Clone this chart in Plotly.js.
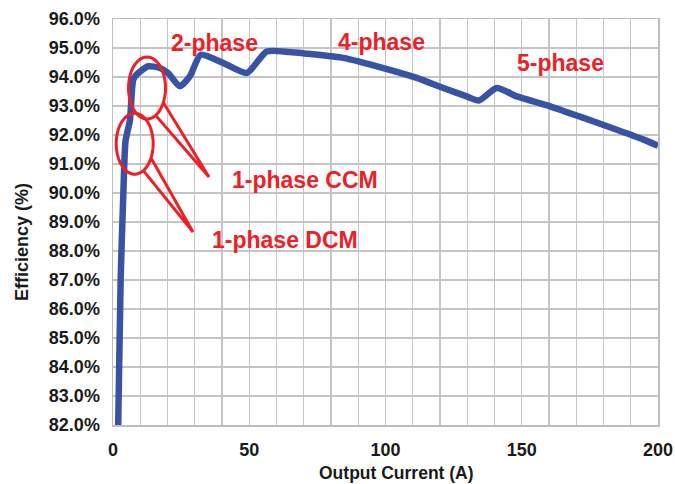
<!DOCTYPE html>
<html>
<head>
<meta charset="utf-8">
<script src="https://cdn.plot.ly/plotly-3.0.1.min.js"></script>
<style>html,body{margin:0;padding:0;background:#fff;}#chart{width:675px;height:484px;}</style>
</head>
<body>
<div id="chart"></div>
<script>
// Data
const outputCurrent = [1.9, 2.8, 3.8, 4.6, 6.2, 7.4, 8.6, 12.9, 17.2, 20.2, 24.5, 28.2, 32.2, 40.5, 49.1, 56.4, 64.9, 71.6, 80.7, 84.5, 99.2, 111.5, 121.2, 129.8, 134.3, 140.8, 148.2, 160.4, 172.7, 184.9, 194.7, 200];
const efficiency    = [82.0, 87.0, 90.0, 91.8, 92.5, 93.9, 94.08, 94.37, 94.31, 94.14, 93.68, 94.02, 94.77, 94.48, 94.14, 94.88, 94.86, 94.80, 94.71, 94.66, 94.31, 93.97, 93.62, 93.33, 93.19, 93.62, 93.33, 92.99, 92.59, 92.18, 91.84, 91.63];
const yTicks = [82, 83, 84, 85, 86, 87, 88, 89, 90, 91, 92, 93, 94, 95, 96];
const xTicks = [0, 50, 100, 150, 200];
const phaseLabels = ["2-phase", "4-phase", "5-phase", "1-phase CCM", "1-phase DCM"];
const xTitle = "Output Current (A)";
const yTitle = "Efficiency (%)";

const W = 675, H = 484;
const M = {l: 113, r: 17, t: 19, b: 59};
const X0 = 0, X1 = 200, Y0 = 82, Y1 = 96;
const pw = W - M.l - M.r, ph = H - M.t - M.b;
function px2x(px){ return X0 + (px - M.l) / pw * (X1 - X0); }
function py2y(py){ return Y1 - (py - M.t) / ph * (Y1 - Y0); }

// oval callout (ellipse with a tail), defined in pixel geometry
function callout(cx, cy, rx, ry, a1, a2, tx, ty){
  const pts = [];
  const start = a1 * Math.PI/180, end = a2 * Math.PI/180 + 2*Math.PI;
  const n = 60;
  for (let i = 0; i <= n; i++){
    const t = start + (end - start) * i / n;
    pts.push([cx + rx*Math.cos(t), cy + ry*Math.sin(t)]);
  }
  pts.push([tx, ty]);
  pts.push(pts[0]);
  return pts.map((p, i) => (i === 0 ? 'M' : 'L') + px2x(p[0]).toFixed(3) + ',' + py2y(p[1]).toFixed(4)).join(' ');
}

const red = '#ec2027';
const FAM = 'Liberation Sans, Arial, sans-serif';
const shapes = [
  {type:'path', xref:'x', yref:'y', path: callout(147, 88, 18.5, 31, 28, 62, 209, 177), line:{color:red, width:3}},
  {type:'path', xref:'x', yref:'y', path: callout(134.7, 143.7, 18.5, 30.5, 28, 62, 193, 232), line:{color:red, width:3}}
];

const annFont = {family: FAM, size:23, color:red};
const annPos = [[214, 43], [381, 42], [560, 63], [305, 180], [285, 240]];
const annotations = phaseLabels.map((t, i) => ({
  text: '<b>' + t + '</b>', x: px2x(annPos[i][0]), y: py2y(annPos[i][1]), xref:'x', yref:'y',
  showarrow:false, font: annFont, xanchor:'center', yanchor:'middle'
}));
annotations.push({text:'<b>' + xTitle + '</b>', xref:'paper', yref:'paper',
  x: (396 - M.l) / pw, y: -(473 - M.t - ph) / ph, showarrow:false, xanchor:'center', yanchor:'middle',
  font:{family:FAM, size:17.5, color:'#1a1a1a'}});
annotations.push({text:'<b>' + yTitle + '</b>', xref:'paper', yref:'paper', textangle:-90,
  x: (22 - M.l) / pw, y: 1 - (242 - M.t) / ph, showarrow:false, xanchor:'center', yanchor:'middle',
  font:{family:FAM, size:18, color:'#1a1a1a'}});

const trace = {
  x: outputCurrent, y: efficiency, type:'scatter', mode:'lines',
  line:{color:'#3953a4', width:6.5, shape:'spline', smoothing:0.6},
  hoverinfo:'skip'
};

const tickFont = {family: FAM, size:18, color:'#1a1a1a', weight:'bold'};
const layout = {
  width: W, height: H,
  margin: M,
  paper_bgcolor:'#fff', plot_bgcolor:'#fff',
  showlegend:false,
  xaxis: {
    range:[X0, X1], tickvals: xTicks, ticktext: xTicks.map(String),
    showgrid:false, zeroline:false, showline:true, linecolor:'#bdbdbd', linewidth:1.5, mirror:true,
    ticks:'', ticklabelstandoff: 8, tickfont: tickFont, automargin:false,
    title:{text:''}
  },
  yaxis: {
    range:[Y0, Y1], tickvals: yTicks, ticktext: yTicks.map(v => v.toFixed(1) + '%'),
    showgrid:true, gridcolor:'#c4c4c4', gridwidth:1.3, zeroline:false,
    showline:true, linecolor:'#bdbdbd', linewidth:1.5, mirror:true,
    ticks:'', ticklabelstandoff: 8, tickfont: tickFont, automargin:false,
    title:{text:''}
  },
  xaxis2: {
    overlaying:'x', range:[X0, X1], dtick:10, tick0:0, showgrid:true, gridcolor:'#c4c4c4', gridwidth:1.3,
    showticklabels:false, zeroline:false, ticks:''
  },
  shapes: shapes,
  annotations: annotations
};

const gridTrace = {x:[X0], y:[Y0], xaxis:'x2', yaxis:'y', mode:'markers', marker:{opacity:0}, hoverinfo:'skip'};

Plotly.newPlot('chart', [gridTrace, trace], layout, {staticPlot:true, displayModeBar:false});
</script>
</body>
</html>
